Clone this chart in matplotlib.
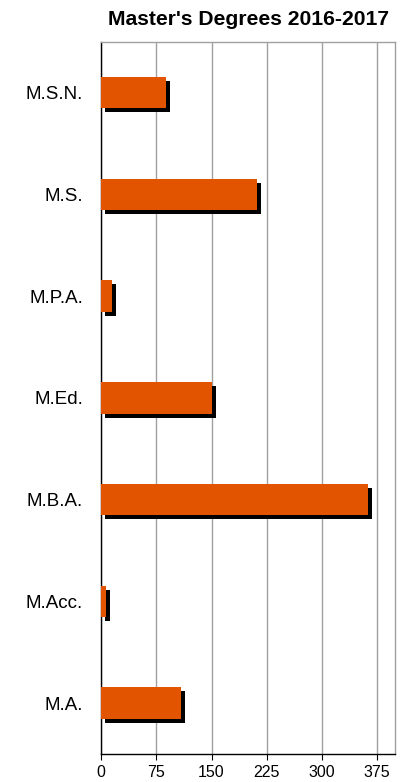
import matplotlib
matplotlib.use('Agg')
import matplotlib.pyplot as plt
import matplotlib.transforms as mtransforms

# data (top to bottom as shown)
degrees = ['M.S.N.', 'M.S.', 'M.P.A.', 'M.Ed.', 'M.B.A.', 'M.Acc.', 'M.A.']
counts = [88, 212, 15, 150, 363, 7, 108]
xticks = [0, 75, 150, 225, 300, 375]

plt.rcParams['font.family'] = ['Liberation Sans', 'DejaVu Sans']

fig = plt.figure(figsize=(4.04, 7.82), dpi=100)
ax = fig.add_axes([0.2507, 0.0358, 0.7278, 0.9109])

ypos = list(range(len(degrees)))
bar_h = 0.31

# drop shadow: same bars shifted 4px right / 4px down
shadow = ax.transData + mtransforms.ScaledTranslation(4 / 100, -4 / 100, fig.dpi_scale_trans)
ax.barh(ypos, counts, height=bar_h, color='black', transform=shadow, zorder=2)
ax.barh(ypos, counts, height=bar_h, color='#E35400', zorder=3)

ax.set_xlim(0, 400)
ax.set_ylim(len(degrees) - 0.5, -0.5)
ax.set_xticks(xticks)
ax.set_xticklabels([str(t) for t in xticks], fontsize=11.5)
ax.set_yticks(ypos)
ax.set_yticklabels(degrees, fontsize=13.5)
ax.tick_params(axis='y', length=0, pad=13)
ax.tick_params(axis='x', length=4, width=0.8, direction='out', pad=4)

ax.grid(axis='x', color='#a0a0a0', linewidth=1, zorder=0)
ax.set_axisbelow(True)

ax.spines['left'].set_color('black')
ax.spines['bottom'].set_color('black')
ax.spines['top'].set_color('#a0a0a0')
ax.spines['right'].set_color('#a0a0a0')
for s in ax.spines.values():
    s.set_linewidth(1)

ax.set_title("Master's Degrees 2016-2017", fontsize=15.2, fontweight='bold', pad=12)

fig.savefig('out.png', dpi=100)
